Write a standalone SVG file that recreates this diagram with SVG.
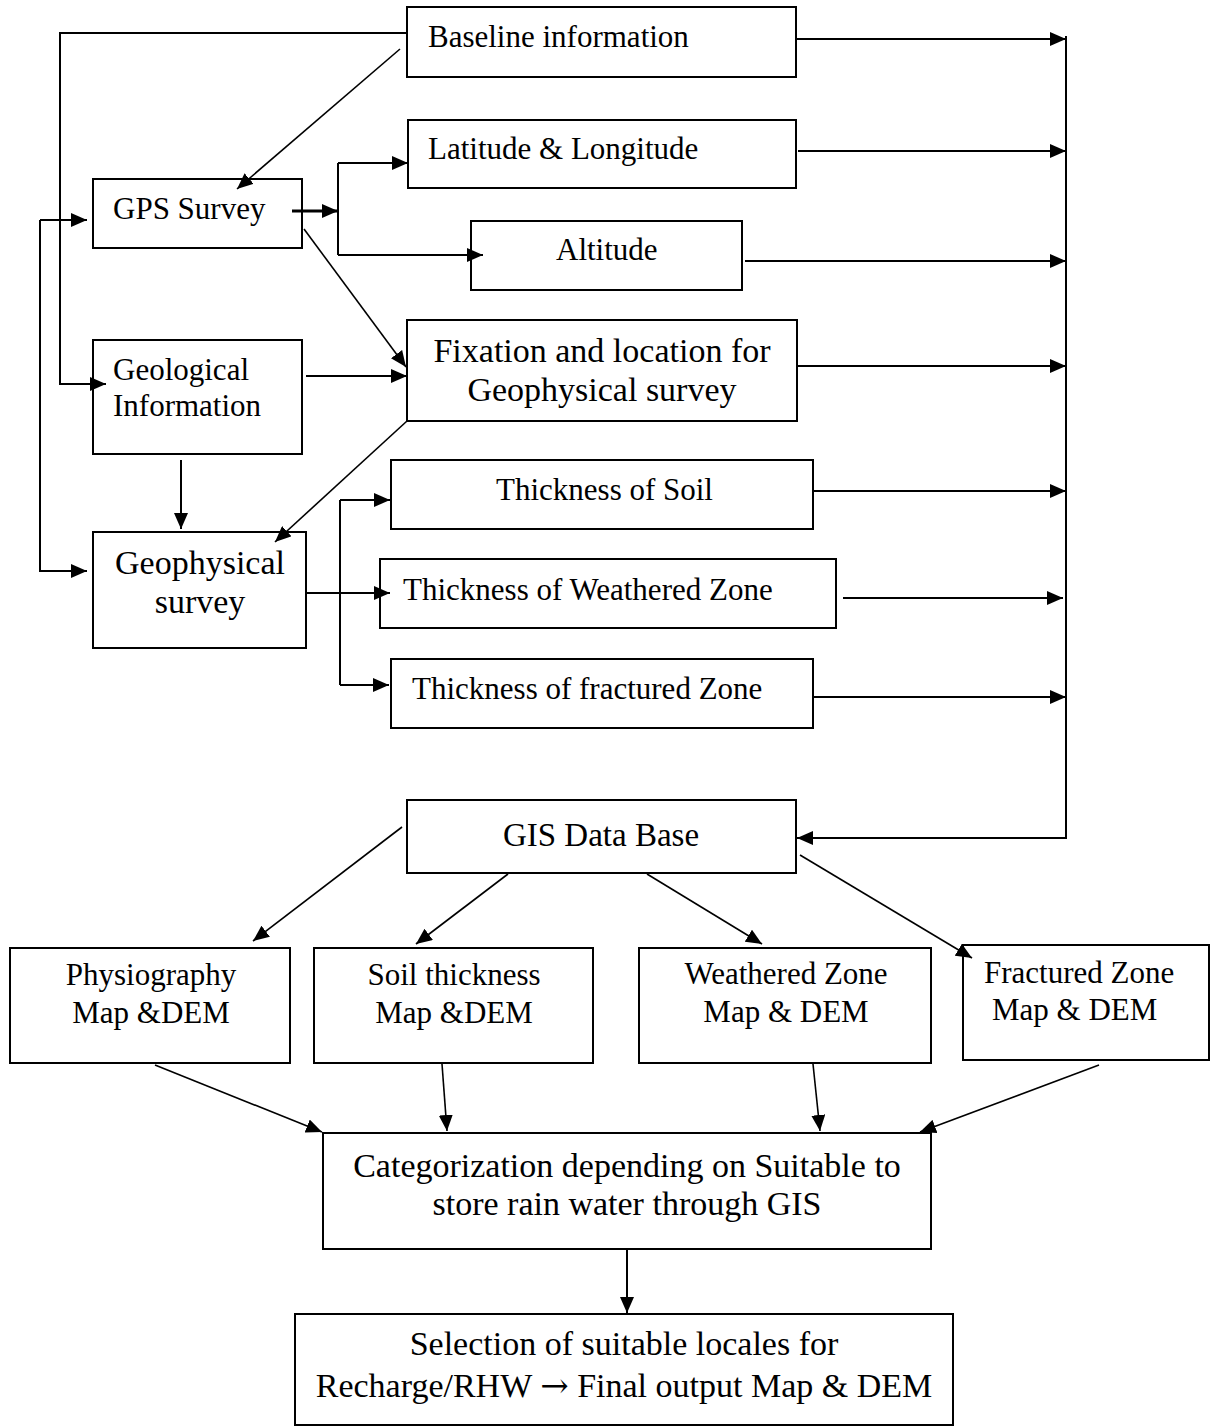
<svg xmlns="http://www.w3.org/2000/svg" width="1217" height="1427" viewBox="0 0 1217 1427">
<style>
.box{fill:#fff;stroke:#000;stroke-width:2}
.t{font-family:"Liberation Serif","Times New Roman",serif;font-size:31px;fill:#000}
.tl{font-family:"Liberation Serif","Times New Roman",serif;font-size:34px;fill:#000}
.c{text-anchor:middle}
.ln{fill:none;stroke:#000;stroke-width:2}
.dg{fill:none;stroke:#000;stroke-width:1.6}
.ar{marker-end:url(#ah)}
.sym{font-family:"DejaVu Serif","DejaVu Sans",serif}
</style>
<defs>
<marker id="ah" markerUnits="userSpaceOnUse" markerWidth="16" markerHeight="14" refX="16" refY="7" orient="auto" viewBox="0 0 16 14">
<path d="M0,0 L16,7 L0,14 z" fill="#000"/>
</marker>
</defs>
<rect width="1217" height="1427" fill="#fff"/>
<g id="baseline"><rect class="box" x="407" y="7" width="389" height="70"/><text class="t" x="428" y="47">Baseline information</text></g>
<g id="latlong"><rect class="box" x="408" y="120" width="388" height="68"/><text class="t" x="428" y="159">Latitude &amp; Longitude</text></g>
<g id="altitude"><rect class="box" x="471" y="221" width="271" height="69"/><text class="t" x="556" y="260">Altitude</text></g>
<g id="gps"><rect class="box" x="93" y="179" width="209" height="69"/><text class="t" x="113" y="219">GPS Survey</text></g>
<g id="geological"><rect class="box" x="93" y="340" width="209" height="114"/><text class="t" x="113" y="380">Geological</text><text class="t" x="113" y="416">Information</text></g>
<g id="fixation"><rect class="box" x="407" y="320" width="390" height="101"/><text class="tl c" x="602" y="362">Fixation and location for</text><text class="tl c" x="602" y="401">Geophysical survey</text></g>
<g id="geophysical"><rect class="box" x="93" y="532" width="213" height="116"/><text class="tl c" x="200" y="574">Geophysical</text><text class="tl c" x="200" y="613">survey</text></g>
<g id="soil"><rect class="box" x="391" y="460" width="422" height="69"/><text class="t" x="496" y="500">Thickness of Soil</text></g>
<g id="weathered"><rect class="box" x="380" y="559" width="456" height="69"/><text class="t" x="403" y="600">Thickness of Weathered Zone</text></g>
<g id="fractured"><rect class="box" x="391" y="659" width="422" height="69"/><text class="t" x="412" y="699">Thickness of fractured Zone</text></g>
<g id="gis"><rect class="box" x="407" y="800" width="389" height="73"/><text class="tl c" x="601" y="846" style="font-size:33px">GIS Data Base</text></g>
<g id="physiography"><rect class="box" x="10" y="948" width="280" height="115"/><text class="t c" x="151" y="985">Physiography</text><text class="t c" x="151" y="1023">Map &amp;DEM</text></g>
<g id="soilmap"><rect class="box" x="314" y="948" width="279" height="115"/><text class="t c" x="454" y="985">Soil thickness</text><text class="t c" x="454" y="1023">Map &amp;DEM</text></g>
<g id="weatheredmap"><rect class="box" x="639" y="948" width="292" height="115"/><text class="t c" x="786" y="984">Weathered Zone</text><text class="t c" x="786" y="1022">Map &amp; DEM</text></g>
<g id="fracturedmap"><rect class="box" x="963" y="945" width="246" height="115"/><text class="t" x="984" y="983">Fractured Zone</text><text class="t" x="992" y="1020">Map &amp; DEM</text></g>
<g id="categorization"><rect class="box" x="323" y="1133" width="608" height="116"/><text class="tl c" x="627" y="1177">Categorization depending on Suitable to</text><text class="tl c" x="627" y="1215">store rain water through GIS</text></g>
<g id="selection"><rect class="box" x="295" y="1314" width="658" height="111"/><text class="tl c" x="624" y="1355">Selection of suitable locales for</text><text class="tl c" x="624" y="1397">Recharge/RHW <tspan class="sym">→</tspan> Final output Map &amp; DEM</text></g>
<g id="connectors">
<path class="ln ar" d="M796,39 H1066"/>
<path class="ln ar" d="M798,151 H1066"/>
<path class="ln ar" d="M745,261 H1066"/>
<path class="ln ar" d="M798,366 H1066"/>
<path class="ln ar" d="M813,491 H1066"/>
<path class="ln ar" d="M843,598 H1063"/>
<path class="ln ar" d="M813,697 H1066"/>
<path class="ln ar" d="M1066,36 V838 H797"/>
<path class="ln ar" d="M407,33 H60 V384 H106"/>
<path class="ln ar" d="M40,220 H87"/>
<path class="ln ar" d="M40,220 V571 H87"/>
<path class="dg ar" d="M400,49 L237,189"/>
<path class="ln ar" style="stroke-width:3" d="M292,211 H338"/>
<path class="ln" d="M338,163 V255"/>
<path class="ln ar" d="M338,163 H408"/>
<path class="ln ar" d="M338,255 H483"/>
<path class="dg ar" d="M304,229 L406,367"/>
<path class="ln ar" d="M306,376 H407"/>
<path class="ln ar" d="M181,460 V529"/>
<path class="dg ar" d="M407,421 L275,542"/>
<path class="ln ar" d="M306,593 H390"/>
<path class="ln" d="M340,500 V685"/>
<path class="ln ar" d="M340,500 H390"/>
<path class="ln ar" d="M340,685 H389"/>
<path class="dg ar" d="M402,827 L253,941"/>
<path class="dg ar" d="M508,874 L416,944"/>
<path class="dg ar" d="M647,874 L762,944"/>
<path class="dg ar" d="M800,855 L972,958"/>
<path class="dg ar" d="M155,1065 L322,1132"/>
<path class="dg ar" d="M442,1064 L447,1131"/>
<path class="dg ar" d="M813,1064 L820,1131"/>
<path class="dg ar" d="M1099,1065 L920,1132"/>
<path class="ln ar" d="M627,1249 V1313"/>
</g>
</svg>
